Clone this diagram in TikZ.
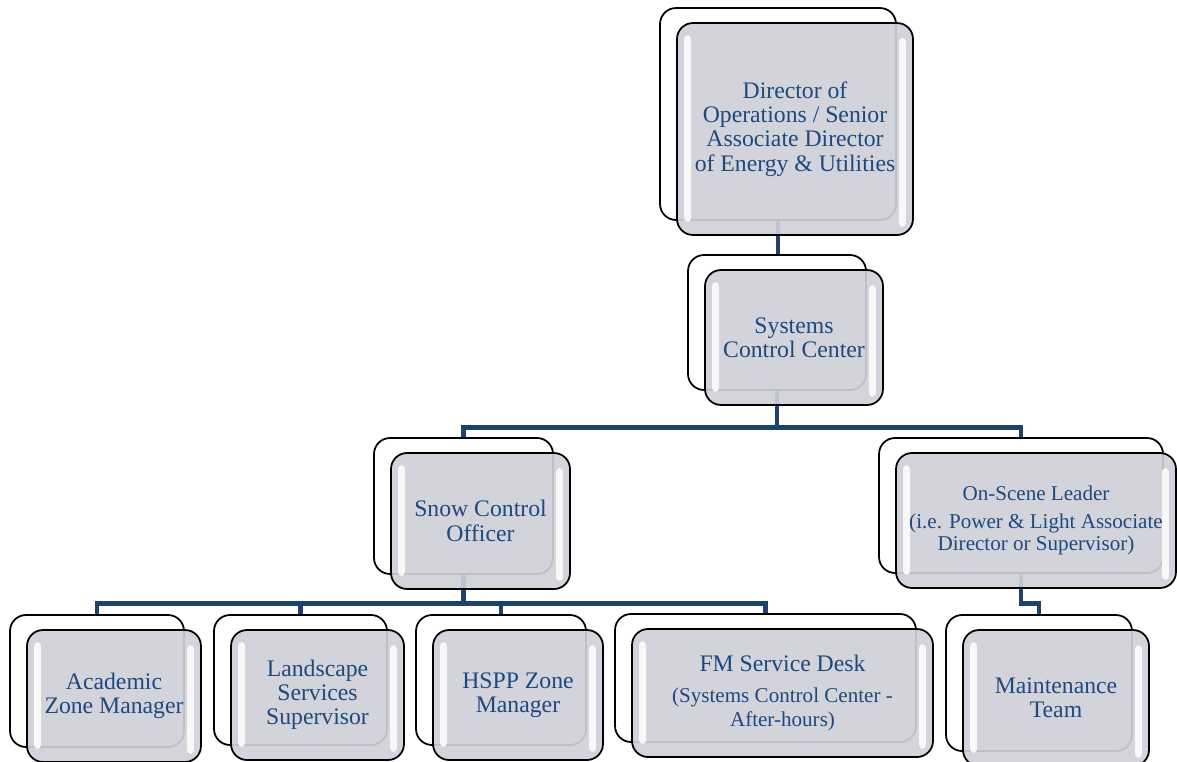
\documentclass[tikz,border=0pt]{standalone}
\usepackage{fontspec}
\setmainfont{Liberation Serif}
\usepackage{tikz}
\usetikzlibrary{positioning}

\definecolor{linkblue}{RGB}{30,66,112}
\definecolor{textblue}{RGB}{31,73,125}
\definecolor{glassgray}{RGB}{207,208,217}
\pgfdeclarelayer{background}
\pgfsetlayers{background,main}

\begin{document}
\begin{tikzpicture}[x=0.02cm, y=-0.02cm,
			backbox/.style={rectangle, rounded corners=0.32cm, draw=black, line width=1pt, fill=white},
			glassbox/.style={rectangle, rounded corners=0.32cm, draw=black, line width=1pt, fill=glassgray, fill opacity=0.92, text opacity=1, text=textblue, align=center, font=\fontsize{13.5}{13.8}\selectfont,
				path picture={
					\fill[white, fill opacity=0.85, rounded corners=0.08cm] ([shift={(7,12)}]path picture bounding box.north west) rectangle ([shift={(14,-13)}]path picture bounding box.south west);
					\fill[white, fill opacity=0.85, rounded corners=0.08cm] ([shift={(-14,15)}]path picture bounding box.north east) rectangle ([shift={(-7,-8)}]path picture bounding box.south east);
				}},
			link/.style={draw=linkblue, line width=2.8pt},
		]
		
			\useasboundingbox (0,0) rectangle (1177,761);
		
			%Back boxes
			\node[backbox, minimum width=4.72cm, minimum height=4.24cm]	(dir)	at (778,114)	{};
			\node[backbox, minimum width=3.56cm, minimum height=2.70cm]	(scc)	at (777,322.5)	{};
			\node[backbox, minimum width=3.58cm, minimum height=2.72cm]	(sco)	at (463.5,506)	{};
			\node[backbox, minimum width=5.68cm, minimum height=2.70cm]	(osl)	at (1021,505.5)	{};
			\node[backbox, minimum width=3.48cm, minimum height=2.64cm]	(acz)	at (97,681)	{};
			\node[backbox, minimum width=3.46cm, minimum height=2.60cm]	(lss)	at (300.5,680)	{};
			\node[backbox, minimum width=3.40cm, minimum height=2.60cm]	(hzm)	at (501,680)	{};
			\node[backbox, minimum width=6.02cm, minimum height=2.56cm]	(fmd)	at (765.5,678)	{};
			\node[backbox, minimum width=3.72cm, minimum height=2.72cm]	(mnt)	at (1039,683)	{};
		
			%Front boxes
			\node[glassbox, minimum width=4.72cm, minimum height=4.24cm]	(dirf)	at ([shift={(17,15)}]dir)	{Director of\\Operations / Senior\\Associate Director\\of Energy \& Utilities};
			\node[glassbox, minimum width=3.56cm, minimum height=2.70cm]	(sccf)	at ([shift={(17,15)}]scc)	{Systems\\Control Center};
			\node[glassbox, minimum width=3.58cm, minimum height=2.72cm]	(scof)	at ([shift={(17,15)}]sco)	{Snow Control\\Officer};
			\node[glassbox, minimum width=5.60cm, minimum height=2.70cm, font=\fontsize{12}{12.5}\selectfont]	(oslf)	at ([shift={(15,15)}]osl)	{On-Scene Leader\\[3.4pt](i.e. Power \& Light Associate\\Director or Supervisor)};
			\node[glassbox, minimum width=3.48cm, minimum height=2.64cm]	(aczf)	at ([shift={(17,15)}]acz)	{Academic\\Zone Manager};
			\node[glassbox, minimum width=3.46cm, minimum height=2.60cm]	(lssf)	at ([shift={(17,15)}]lss)	{Landscape\\Services\\Supervisor};
			\node[glassbox, minimum width=3.40cm, minimum height=2.60cm]	(hzmf)	at ([shift={(17,15)}]hzm)	{HSPP Zone\\Manager};
			\node[glassbox, minimum width=6.02cm, minimum height=2.56cm, font=\fontsize{12}{13.7}\selectfont]	(fmdf)	at ([shift={(17,15)}]fmd)	{{\fontsize{13.5}{13.8}\selectfont FM Service Desk}\\[4pt](Systems Control Center -\\After-hours)};
			\node[glassbox, minimum width=3.72cm, minimum height=2.72cm]	(mntf)	at ([shift={(17,15)}]mnt)	{Maintenance\\Team};
		
			%Lines
			\begin{pgfonlayer}{background}
				\draw[link]	(dir.south) -- (dir.south |- scc.north);
				\draw[link]	(scc.south) -- ++(0,37) -| (sco.north);
				\draw[link]	(scc.south) -- ++(0,37) -| (osl.north);
				\foreach \c in {acz,lss,hzm,fmd}
					\draw[link]	(sco.south) -- ++(0,29) -| (\c.north);
				\draw[link]	(osl.south) -- ++(0,30) -| (mnt.north);
			\end{pgfonlayer}
		
		\end{tikzpicture}
\end{document}
